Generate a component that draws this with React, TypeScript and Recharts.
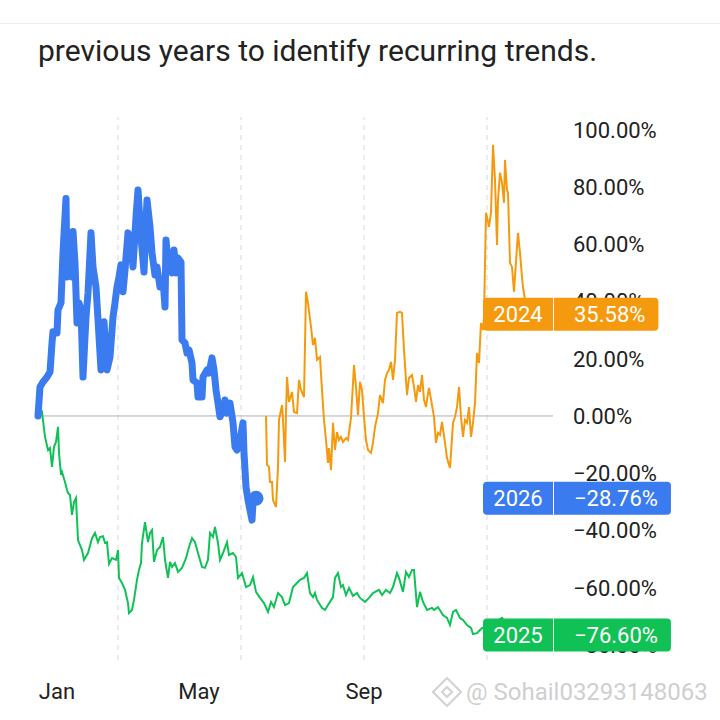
import { LabelList, Line, LineChart, ReferenceLine, XAxis, YAxis } from "recharts"

// [day offset, % change]
const series2024: [number, number][] = [
  [228, 0], [229, -17.1], [231, -17.8], [232, -23.1], [234, -23.1], [235, -29.4], [238, -31.8], [240, -17.8],
  [241, -1.4], [244, 3.8], [245, -1.4], [247, -16.1], [248, 1], [249, 13.6], [251, 4.9], [254, 8.4],
  [256, 1.4], [259, 1], [261, 12.6], [263, 9.1], [266, 6.6], [268, 43.4], [270, 39.5], [273, 31.1],
  [275, 24.8], [277, 27.3], [279, 19.6], [282, 20.6], [284, 9.1], [286, -1.4], [288, -8.4], [290, -16.4],
  [291, -11.2], [293, -18.9], [295, -2.4], [297, -11.9], [299, -5.6], [301, -8.4], [303, -7.3], [305, -9.1],
  [308, -7.7], [310, -8.4], [313, -0.7], [315, 11.5], [316, 17.8], [318, 10.1], [320, 0.3], [322, 11.9],
  [324, 9.1], [326, -0.3], [328, -8.4], [330, -11.9], [333, -12.9], [335, -9.4], [337, -3.8], [340, 1],
  [342, 7.3], [345, 4.5], [347, 12.6], [349, 15], [351, 16.1], [353, 18.9], [355, 12.6], [357, 19.6],
  [359, 36], [362, 36.4], [364, 36], [366, 23.1], [369, 7.3], [371, 13.3], [374, 14.3], [376, 10.1],
  [378, 4.9], [380, 10.8], [382, 8.4], [384, 14.3], [386, 5.6], [388, 3.1], [389, 5.6], [391, 9.8],
  [394, 3.8], [396, -0.3], [398, -9.4], [400, -5.9], [402, -6.6], [404, -2.1], [407, -9.4], [409, -14.7],
  [412, -18.2], [415, -2.4], [417, -0.3], [419, 3.1], [421, 10.1], [423, -0.3], [425, -7.3], [427, -1.4],
  [429, -2.4], [431, 3.1], [433, -7.3], [435, -2.4], [437, 4.5], [439, 22], [441, 18.5], [443, 32.5],
  [445, 30.1], [446, 34.6], [448, 71], [449, 69.6], [451, 66.1], [453, 71], [455, 94.8], [457, 82.5],
  [459, 59.8], [460, 75.5], [462, 85], [464, 81.5], [466, 74.5], [467, 89.5], [469, 79], [470, 78],
  [472, 53.5], [474, 52.1], [476, 43.4], [479, 59.1], [480, 64], [482, 57], [484, 48.6], [485, 45.1],
  [487, 40.6], [490, 35.58],
]

const series2025: [number, number][] = [
  [0, 0], [4, 1.4], [7, -7.3], [10, -11.9], [12, -11.2], [14, -17.8], [16, -10.8], [18, -9.1],
  [20, -3.8], [21, -12.9], [23, -20.6], [24, -19.6], [27, -23.1], [29, -25.9], [30, -26.9], [32, -27.6],
  [34, -34.6], [36, -30.1], [38, -28.7], [40, -43.4], [44, -46.9], [46, -50.3], [50, -47.9], [54, -42.7],
  [57, -40.9], [60, -44.1], [62, -42.3], [65, -42], [67, -44.4], [69, -44.1], [71, -51.7], [74, -49.7],
  [78, -50.3], [80, -46.9], [81, -56.6], [84, -58.4], [87, -60.8], [90, -65.4], [91, -68.9], [94, -67.8],
  [96, -64.3], [99, -57.3], [101, -53.8], [103, -51.4], [104, -44.4], [107, -37.1], [110, -44.1], [112, -40.9],
  [114, -39.9], [116, -51], [119, -46.9], [122, -45.8], [125, -42.3], [127, -50.3], [130, -56.6], [132, -51],
  [134, -52.8], [137, -51.4], [140, -54.5], [144, -53.1], [148, -49.7], [151, -45.8], [154, -42.7], [157, -44.1],
  [160, -47.9], [164, -52.8], [167, -53.1], [170, -50.3], [172, -40.9], [175, -42.3], [177, -38.8], [180, -44.4],
  [182, -50.3], [185, -47.9], [189, -44.1], [191, -48.6], [195, -47.9], [198, -49.3], [200, -56.6], [204, -54.9],
  [208, -59.8], [212, -59.1], [215, -56.3], [218, -61.5], [222, -63.6], [226, -65.4], [230, -68.5], [233, -65],
  [236, -66.8], [240, -61.9], [244, -63.3], [247, -66.1], [251, -65.4], [255, -59.8], [259, -58.4], [262, -57.3],
  [266, -56.6], [269, -54.9], [272, -61.9], [275, -63.3], [277, -61.9], [279, -64.3], [284, -67.1], [287, -67.8],
  [290, -66.1], [295, -63.3], [297, -56.6], [300, -54.9], [303, -59.8], [305, -59.1], [308, -62.6], [311, -60.1],
  [315, -62.9], [319, -61.9], [322, -63.6], [327, -65], [331, -63.6], [335, -61.9], [341, -60.8], [344, -62.6],
  [348, -60.8], [352, -61.9], [355, -59.8], [359, -54.9], [361, -56.6], [365, -61.5], [368, -54.5], [371, -56.3],
  [374, -53.8], [376, -53.8], [379, -66.8], [382, -61.5], [385, -65], [389, -67.8], [394, -67.1], [396, -67.8],
  [400, -66.8], [405, -69.6], [409, -70.6], [412, -73.1], [415, -68.5], [418, -67.8], [422, -70.6], [425, -71.3],
  [429, -73.1], [433, -74.1], [435, -76.2], [439, -75.9], [444, -74.1], [447, -74.1], [452, -73], [457, -72],
  [464, -70.6], [470, -74], [477, -76.6],
]

const series2026: [number, number][] = [
  [0, 0], [2, 10.1], [5, 11.9], [9, 13.6], [12, 15.4], [14, 25.5], [15, 29.4], [19, 29],
  [20, 37.1], [23, 39.5], [25, 57], [28, 76], [29, 48.6], [31, 54.5], [34, 48.6], [35, 64.5],
  [37, 53.5], [39, 32.5], [41, 39.5], [43, 37.1], [45, 13.6], [48, 34.6], [50, 43], [53, 64],
  [55, 52.1], [58, 45.1], [60, 33.6], [63, 16.1], [66, 32.9], [69, 16.1], [72, 20.6], [75, 34.6],
  [77, 39.5], [79, 45.1], [81, 48.6], [83, 52.8], [85, 43.4], [87, 51], [90, 64], [93, 61.5],
  [95, 52.1], [98, 69.6], [100, 79], [103, 62.6], [106, 50.3], [109, 75.5], [112, 66.1], [114, 57],
  [117, 49.3], [119, 52.1], [122, 45.1], [125, 47.6], [127, 38.1], [128, 61.5], [130, 54.5], [134, 50],
  [136, 58], [138, 50], [140, 55.2], [143, 53.8], [144, 26.6], [147, 25.5], [149, 22], [151, 23.1],
  [154, 18.5], [155, 12.6], [159, 11.5], [160, 6.6], [164, 6.6], [165, 13.6], [169, 16.1], [171, 15],
  [174, 20.3], [176, 16.1], [178, 9.1], [180, 4.5], [182, -0.3], [185, 2.1], [187, 5.6], [189, 1],
  [192, 4.5], [195, -2.4], [197, -10.8], [199, -11.9], [202, -8.4], [205, -2.4], [206, -12.9], [208, -24.8],
  [210, -29.4], [214, -36.4], [215, -30.4], [218, -28.76],
]

const yTicks = [-80, -60, -40, -20, 0, 20, 40, 60, 80, 100]
const xTickDays = [19, 161, 326]
const xTickLabels = ["Jan", "May", "Sep"]
const gridDays = [80, 203, 326, 449]

const ORANGE = "#F59A0E"
const GREEN = "#10C256"
const BLUE = "#3A7BF0"
const FONT = "Roboto, 'Noto Sans', sans-serif"

const PLOT_RIGHT = 553

const toRows = (s: [number, number][]) => s.map(([day, value]) => ({ day, value }))
const data2024 = toRows(series2024)
const data2025 = toRows(series2025)
const data2026 = toRows(series2026)

const fmtPct = (v: number) => (v < 0 ? "\u2212" : "") + Math.abs(v).toFixed(2) + "%"

let ctx: CanvasRenderingContext2D | null = null
function textWidth(text: string) {
  if (!ctx) ctx = document.createElement("canvas").getContext("2d")
  if (!ctx) return text.length * 12
  ctx.font = `22px ${FONT}`
  return ctx.measureText(text).width
}

function makeBadge(year: string, color: string, lastIndex: number) {
  return (props: any) => {
    if (props.index !== lastIndex) return null
    const cy = Number(props.y)
    const text = fmtPct(Number(props.value))
    const h = 33
    const left = PLOT_RIGHT - 70
    const valueX = PLOT_RIGHT + 21
    const right = valueX + textWidth(text) + 13
    return (
      <g>
        <rect x={left} y={cy - h / 2} width={right - left} height={h} rx={4} fill={color} />
        <line x1={PLOT_RIGHT + 0.5} x2={PLOT_RIGHT + 0.5} y1={cy - h / 2} y2={cy + h / 2} stroke="#fff" strokeWidth={1} />
        <text x={left + 35} y={cy} dy="0.36em" textAnchor="middle" fill="#fff" fontSize={22} fontFamily={FONT}>
          {year}
        </text>
        <text x={valueX} y={cy} dy="0.36em" fill="#fff" fontSize={22} fontFamily={FONT}>
          {text}
        </text>
      </g>
    )
  }
}

const YTick = ({ x, y, payload }: any) => (
  <text x={x + 18} y={y} dy="0.36em" fill="#222" fontSize={22} fontFamily={FONT}>
    {fmtPct(payload.value)}
  </text>
)

const XTick = ({ x, y, payload }: any) => (
  <text x={x} y={y + 37} textAnchor="middle" fill="#222" fontSize={22} fontFamily={FONT}>
    {xTickLabels[xTickDays.indexOf(payload.value)]}
  </text>
)

export default function App() {
  const last2026 = data2026.length - 1
  return (
    <div style={{ position: "absolute", left: 0, top: 0, width: 720, height: 720, background: "#fff", fontFamily: FONT }}>
      <div style={{ position: "absolute", left: 0, top: 23, width: 720, height: 1, background: "#ececec" }} />
      <div style={{ position: "absolute", left: 38, top: 36, fontSize: 30, lineHeight: "30px", color: "#222", whiteSpace: "nowrap" }}>
        previous years to identify recurring trends.
      </div>
      <LineChart width={720} height={720} data={data2025} margin={{ top: 117, right: 0, bottom: 0, left: 38 }} style={{ position: "absolute", left: 0, top: 0 }}>
        <XAxis
          dataKey="day"
          type="number"
          domain={[0, 515]}
          ticks={xTickDays}
          tick={<XTick />}
          axisLine={false}
          tickLine={false}
          tickSize={0}
          height={60}
          interval={0}
        />
        <YAxis
          orientation="right"
          type="number"
          domain={[-85.3, 104.5]}
          ticks={yTicks}
          tick={<YTick />}
          axisLine={false}
          tickLine={false}
          tickSize={0}
          width={167}
          interval={0}
        />
        {gridDays.map((d) => (
          <ReferenceLine key={d} x={d} stroke="#d9d9d9" strokeDasharray="5 5" />
        ))}
        <ReferenceLine y={0} stroke="#b0b0b0" strokeWidth={1} />
        <Line data={data2025} dataKey="value" stroke={GREEN} strokeWidth={2} dot={false} activeDot={false} isAnimationActive={false}>
          <LabelList dataKey="value" content={makeBadge("2025", GREEN, data2025.length - 1)} />
        </Line>
        <Line data={data2024} dataKey="value" stroke={ORANGE} strokeWidth={2} dot={false} activeDot={false} isAnimationActive={false}>
          <LabelList dataKey="value" content={makeBadge("2024", ORANGE, data2024.length - 1)} />
        </Line>
        <Line
          data={data2026}
          dataKey="value"
          stroke={BLUE}
          strokeWidth={7}
          strokeLinejoin="round"
          strokeLinecap="round"
          activeDot={false}
          isAnimationActive={false}
          dot={(p: any) =>
            p.index === last2026 ? <circle key={p.index} cx={p.cx} cy={p.cy} r={7.5} fill={BLUE} /> : <g key={p.index} />
          }
        >
          <LabelList dataKey="value" content={makeBadge("2026", BLUE, last2026)} />
        </Line>
      </LineChart>
      <svg width={34} height={34} style={{ position: "absolute", left: 430, top: 675 }} viewBox="0 0 34 34">
        <g fill="none" stroke="#d4d4d4" strokeWidth={2.2}>
          <path d="M17 3 L31 17 L17 31 L3 17 Z" />
          <path d="M17 12 L22 17 L17 22 L12 17 Z" />
        </g>
      </svg>
      <div style={{ position: "absolute", left: 466, top: 680, fontSize: 24, lineHeight: "24px", color: "#cfcfcf", whiteSpace: "nowrap" }}>
        @ Sohail03293148063
      </div>
    </div>
  )
}
